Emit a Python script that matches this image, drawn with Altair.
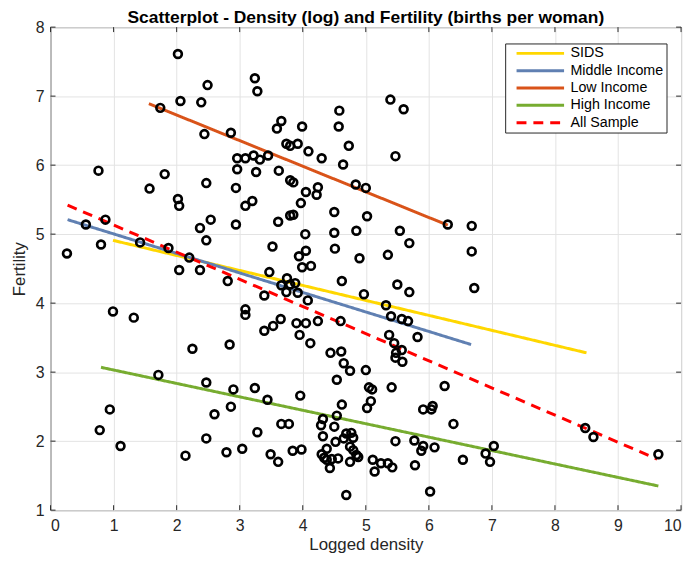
import altair as alt
import pandas as pd

# ---- data ----
density = [
    2.02, 2.49, 3.24, 3.28, 2.06, 2.39, 1.74, 2.86, 2.44, 0.76, 1.81, 2.47, 2.96, 3.09, 3.22, 2.96, 3.26, 1.57, 2.94,
    5.39, 5.60, 4.58, 3.66, 3.59, 3.99, 4.57, 3.74, 3.80, 3.92, 4.73, 4.09, 4.30, 5.47, 4.64, 3.32, 3.45, 3.62, 3.80,
    3.85, 4.05, 4.24, 4.84, 5.00, 4.22,
    2.02, 2.04, 3.09, 3.20, 0.87, 0.56, 2.54, 2.37, 2.94, 3.97, 4.50, 5.02, 3.61, 3.80, 3.85, 6.30, 4.04, 4.50, 4.85,
    5.54, 6.68,
    2.47, 0.80, 0.26, 1.42, 1.87, 2.20, 5.69, 3.52, 4.05, 3.94, 4.51, 4.90, 5.35, 4.13, 3.99, 6.68,
    2.04, 2.37, 2.81, 3.47, 4.62, 3.75, 3.88, 3.66, 3.80, 3.74, 3.92, 5.50, 5.69, 4.97, 3.39, 4.08, 6.72,
    0.99, 1.32, 3.09, 3.09, 5.32, 5.40, 5.57, 5.67, 3.65, 3.53, 3.39, 3.90, 4.05, 4.24, 4.60, 3.95, 5.37, 5.82,
    2.25, 2.84, 4.12, 5.45, 5.57, 5.48, 5.47, 5.58, 4.44, 4.61, 4.65, 4.75, 5.00,
    1.71, 2.47, 2.90, 3.24, 0.94, 2.86, 2.60, 0.78, 3.28, 2.47, 1.11, 3.04, 2.79, 2.14, 4.54, 3.44, 3.96, 5.05, 5.10,
    5.41, 6.25, 5.08, 5.02, 4.62, 5.91, 6.04, 6.06, 4.32, 4.29, 4.50, 4.32, 4.54, 6.39, 3.66, 3.78, 4.69, 4.77, 4.65,
    4.80, 4.52, 4.75, 4.80, 4.85, 4.38, 4.30, 4.34, 4.38, 4.46, 4.56, 4.43, 4.75, 4.88, 5.11, 5.14, 5.24, 5.35, 5.42,
    5.47, 5.77, 5.91, 5.88, 6.09, 3.84, 3.98, 3.49, 3.61, 5.78, 4.69, 6.02, 6.54, 8.48, 8.61, 9.64, 6.90, 7.03, 6.97,
]
fertility = [
    7.61, 7.16, 7.26, 7.07, 6.93, 6.91, 6.83, 6.47, 6.45, 5.92, 5.87, 5.74, 6.10, 6.10, 6.14, 5.94, 5.90, 5.66, 5.67,
    6.95, 6.81, 6.79, 6.64, 6.53, 6.56, 6.56, 6.31, 6.28, 6.31, 6.28, 6.20, 6.10, 6.13, 6.01, 6.08, 6.14, 5.92, 5.78,
    5.75, 5.61, 5.68, 5.72, 5.67, 5.57,
    5.51, 5.41, 5.41, 5.48, 5.21, 5.14, 5.21, 5.09, 5.14, 5.45, 5.32, 5.26, 5.18, 5.27, 5.28, 5.14, 5.00, 5.02, 5.05,
    5.05, 5.12,
    4.91, 4.85, 4.72, 4.88, 4.80, 4.66, 4.87, 4.82, 4.76, 4.68, 4.79, 4.65, 4.70, 4.54, 4.52, 4.75,
    4.48, 4.48, 4.32, 4.45, 4.32, 4.36, 4.29, 4.26, 4.27, 4.16, 4.15, 4.27, 4.16, 4.13, 4.11, 4.04, 4.22,
    3.88, 3.79, 3.91, 3.83, 3.97, 3.81, 3.77, 3.74, 3.77, 3.67, 3.60, 3.71, 3.71, 3.74, 3.74, 3.54, 3.54, 3.51,
    3.34, 3.40, 3.42, 3.42, 3.32, 3.28, 3.21, 3.15, 3.28, 3.30, 3.13, 3.02, 3.03,
    2.96, 2.85, 2.75, 2.77, 2.46, 2.50, 2.39, 2.16, 2.13, 2.04, 1.93, 1.89, 1.84, 1.79, 2.89, 2.60, 2.66, 2.78, 2.75,
    2.78, 2.80, 2.58, 2.48, 2.53, 2.46, 2.46, 2.51, 2.32, 2.23, 2.21, 2.07, 2.37, 2.25, 2.25, 2.25, 2.11, 2.12, 2.04,
    2.05, 1.99, 1.92, 1.87, 1.80, 1.89, 1.81, 1.76, 1.73, 1.74, 1.75, 1.61, 1.70, 1.77, 1.73, 1.56, 1.68, 1.68, 1.62,
    2.00, 2.01, 1.93, 1.86, 1.91, 1.86, 1.88, 1.81, 1.70, 1.65, 1.22, 1.27, 1.73, 2.19, 2.06, 1.81, 1.82, 1.93, 1.70,
]

series_names = ["SIDS", "Middle Income", "Low Income", "High Income", "All Sample"]
series_colors = ["#FFD700", "#6080B2", "#D95319", "#77AC30", "#FF0000"]
series_dashes = [[1, 0], [1, 0], [1, 0], [1, 0], [10, 7]]
line_x_start = [0.99, 0.27, 1.56, 0.80, 0.27]
line_y_start = [4.91, 5.21, 6.89, 3.07, 5.42]
line_x_end = [8.50, 6.67, 6.30, 9.64, 9.62]
line_y_end = [3.28, 3.40, 5.13, 1.35, 1.74]

x_ticks = [0, 1, 2, 3, 4, 5, 6, 7, 8, 9, 10]
y_ticks = [1, 2, 3, 4, 5, 6, 7, 8]

title_text = "Scatterplot - Density (log) and Fertility (births per woman)"
x_title = "Logged density"
y_title = "Fertility"

# ---- tables ----
points = pd.DataFrame({"density": density, "fertility": fertility})
rows = []
for name, x0, y0, x1, y1 in zip(series_names, line_x_start, line_y_start, line_x_end, line_y_end):
    rows.append({"series": name, "density": x0, "fertility": y0, "ord": 0})
    rows.append({"series": name, "density": x1, "fertility": y1, "ord": 1})
lines = pd.DataFrame(rows)
xt = pd.DataFrame({"density": x_ticks})
yt = pd.DataFrame({"fertility": y_ticks})

W, H = 637, 488
FONT = "Liberation Sans, Arial, Helvetica, sans-serif"
AX = "#262626"

xscale = alt.Scale(domain=[0, 10], nice=False, zero=False)
yscale = alt.Scale(domain=[1, 8], nice=False, zero=False)

xaxis = alt.Axis(title=x_title, values=x_ticks, grid=True, tickSize=0, domain=False,
                 labelPadding=8, titleBaseline="alphabetic", titleY=39.5, format="d")
yaxis = alt.Axis(title=y_title, values=y_ticks, grid=True, tickSize=0, domain=False,
                 labelPadding=6.5, titleBaseline="middle", titleX=-31, format="d")

X = lambda: alt.X("density:Q", scale=xscale, axis=xaxis)
Y = lambda: alt.Y("fertility:Q", scale=yscale, axis=yaxis)

line_layer = alt.Chart(lines).mark_line(strokeWidth=3).encode(
    x=X(), y=Y(),
    color=alt.Color("series:N", scale=alt.Scale(domain=series_names, range=series_colors),
                    legend=alt.Legend(title=None)),
    strokeDash=alt.StrokeDash("series:N", scale=alt.Scale(domain=series_names, range=series_dashes),
                              legend=alt.Legend(title=None)),
    order="ord:Q",
)

point_layer = alt.Chart(points).mark_point(
    shape="circle", filled=False, stroke="black", strokeWidth=2.7, size=62, opacity=1
).encode(x=X(), y=Y())

tb = alt.Chart(xt).mark_rule(color=AX, strokeWidth=1).encode(
    x=X(), y=alt.value(H), y2=alt.value(H - 5))
tt = alt.Chart(xt).mark_rule(color=AX, strokeWidth=1).encode(
    x=X(), y=alt.value(0), y2=alt.value(5))
tl = alt.Chart(yt).mark_rule(color=AX, strokeWidth=1).encode(
    y=Y(), x=alt.value(0), x2=alt.value(5))
tr = alt.Chart(yt).mark_rule(color=AX, strokeWidth=1).encode(
    y=Y(), x=alt.value(W), x2=alt.value(W - 5))

chart = alt.layer(line_layer, tb, tt, tl, tr, point_layer).properties(
    width=W, height=H,
    title=alt.Title(title_text, fontSize=17.6, fontWeight="bold", font=FONT, color="#000000",
                    offset=0, frame="group", baseline="alphabetic", dy=21.5),
    autosize=alt.AutoSizeParams(type="none"),
    padding={"left": 43, "top": 16.5, "right": 6, "bottom": 45},
).configure_view(
    stroke=AX, strokeWidth=1
).configure_axis(
    gridColor="#E3E3E3", gridWidth=1,
    labelColor=AX, labelFontSize=16, labelFont=FONT,
    titleColor=AX, titleFontSize=17, titleFont=FONT, titleFontWeight="normal",
).configure_legend(
    orient="none", legendX=459.3, legendY=16.5,
    strokeColor=AX, fillColor="white", padding=3,
    labelFontSize=14.4, labelFont=FONT, labelColor="#000000", labelOffset=5,
    symbolType="stroke", symbolSize=2304, symbolStrokeWidth=3, symbolOffset=7,
    clipHeight=14, rowPadding=2.5,
)

chart.save("out.html", embed_options={"renderer": "svg", "actions": False})
